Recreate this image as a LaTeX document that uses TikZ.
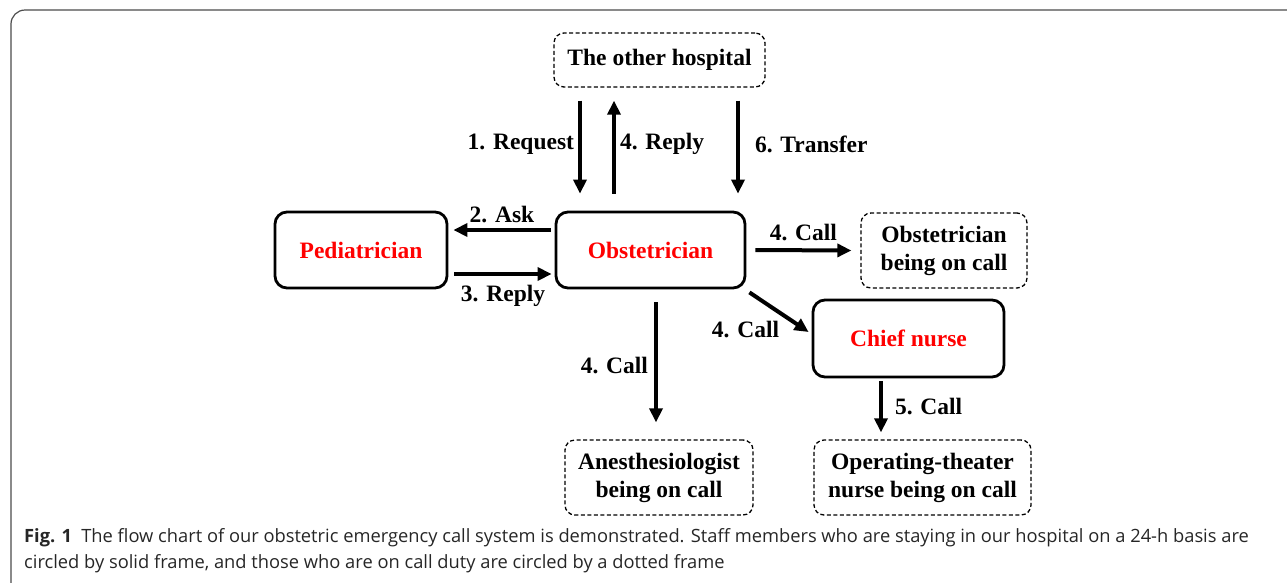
\documentclass[tikz,border=0pt]{standalone}
\usepackage{fontspec}
\setmainfont{Liberation Serif}
\newfontfamily\capfont{Open Sans}
\usetikzlibrary{positioning,arrows.meta}

\begin{document}
\begin{tikzpicture}[x=1pt,y=1pt,
  staff/.style={draw,line width=2.8pt,rounded corners=12pt,align=center,
                font=\fontsize{23.5}{28}\selectfont\bfseries,text=red},
  oncall/.style={draw,line width=1.3pt,dash pattern=on 4pt off 2.5pt,rounded corners=10pt,
                align=center,font=\fontsize{23.5}{28}\selectfont\bfseries},
  arr/.style={-{Triangle[length=14pt,width=13pt]},line width=4pt},
  lab/.style={font=\fontsize{23.5}{28}\selectfont\bfseries,inner sep=4pt},
]
\useasboundingbox (0,0) rectangle (1287,-582);

% outer frame
\draw[line width=1.2pt,draw=black!70,rounded corners=14pt] (11,-620) -- (11,-10) -- (1320,-10);

% boxes
\node[oncall,minimum width=211pt,minimum height=54pt] (hosp) at (659.5,-60) {The other hospital};
\node[staff,minimum width=172pt,minimum height=76pt] (ped) at (361,-250) {Pediatrician};
\node[staff,minimum width=189pt,minimum height=76pt] (obs) at (650.5,-250) {Obstetrician};
\node[oncall,minimum width=166pt,minimum height=75pt] (obscall) at (944,-250.5) {Obstetrician\\being on call};
\node[staff,minimum width=191pt,minimum height=77pt] (chief) at (908.5,-338.5) {Chief nurse};
\node[oncall,minimum width=188pt,minimum height=75pt] (anes) at (659,-477.5) {Anesthesiologist\\being on call};
\node[oncall,minimum width=217pt,minimum height=75pt] (ornurse) at (922.5,-477.5) {Operating-theater\\nurse being on call};

% arrows
\draw[arr] ([shift={(-79.5,-13)}]hosp.south) -- node[lab,left,pos=0.47] {1. Request} ([shift={(-70.5,17)}]obs.north);
\draw[arr] ([shift={(-36.5,17)}]obs.north) -- node[lab,right,pos=0.53] {4. Reply} ([shift={(-45.5,-13)}]hosp.south);
\draw[arr] ([shift={(78.5,-13)}]hosp.south) -- node[lab,right=11pt,pos=0.47] {6. Transfer} ([shift={(87.5,17)}]obs.north);
\draw[arr] ([shift={(-4,20)}]obs.west) -- node[lab,above,inner sep=5pt] {2. Ask} ([shift={(5,20)}]ped.east);
\draw[arr] ([shift={(6,-24)}]ped.east) -- node[lab,below,inner sep=9pt] {3. Reply} ([shift={(-3,-24)}]obs.west);
\draw[arr] ([shift={(9,0)}]obs.east) -- node[lab,above,inner sep=7pt] {4. Call} ([shift={(-9,0)}]obscall.west);
\draw[arr] ([shift={(3,-3)}]obs.south east) -- node[lab,below left,pos=0.35,xshift=15pt,yshift=-9pt] {4. Call} ([shift={(-3,6.5)}]chief.west);
\draw[arr] ([shift={(5.5,-13)}]obs.south) -- node[lab,left,pos=0.53,xshift=-2pt] {4. Call} ([shift={(-3,17)}]anes.north);
\draw[arr] ([shift={(-27.5,-3)}]chief.south) -- node[lab,right,xshift=8pt] {5. Call} ([shift={(-41.5,7)}]ornurse.north);

% caption
\node[anchor=north west,align=left,inner sep=0pt,text=black!85,
      font=\capfont\fontsize{18.3}{26}\selectfont] (cap) at (24,-528)
  {\textbf{Fig. 1}\enspace The flow chart of our obstetric emergency call system is demonstrated. Staff members who are staying in our hospital on a 24-h basis are\\
   circled by solid frame, and those who are on call duty are circled by a dotted frame};

\end{tikzpicture}
\end{document}
